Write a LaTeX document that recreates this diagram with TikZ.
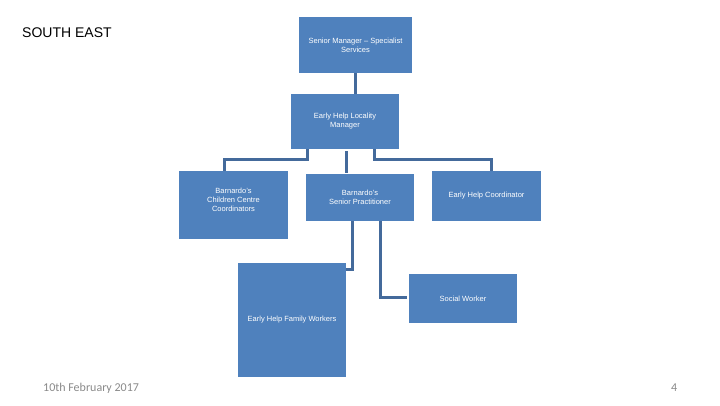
\documentclass[tikz,border=0pt]{standalone}
\usepackage{fontspec}
\setmainfont{Liberation Sans}
\newfontfamily\carl{Carlito}
\usetikzlibrary{calc}
\definecolor{boxblue}{RGB}{79,129,189}
\definecolor{lineblue}{RGB}{68,106,155}
\definecolor{footgray}{RGB}{137,137,137}
\tikzset{
  orgbox/.style={rectangle, fill=boxblue, draw=none, inner sep=0pt, text=white,
    align=center, font=\fontsize{7.5bp}{9bp}\selectfont},
  conn/.style={draw=lineblue, line width=3bp},
}
\begin{document}
\begin{tikzpicture}[x=1bp,y=-1bp]
\useasboundingbox (0,0) rectangle (720,405);
\node[anchor=base west, font=\fontsize{14bp}{16bp}\selectfont, inner sep=0pt] (title) at (22,37) {SOUTH EAST};
\node[anchor=base west, font=\carl\fontsize{12bp}{14bp}\selectfont, text=footgray, inner sep=0pt] (date) at (43,391) {10th February 2017};
\node[anchor=base west, font=\carl\fontsize{12bp}{14bp}\selectfont, text=footgray, inner sep=0pt] (pg) at (671,391) {4};

\node[orgbox, minimum width=113bp, minimum height=56bp] (b1) at (355.5,45) {Senior Manager -- Specialist\\Services};
\node[orgbox, minimum width=108bp, minimum height=55bp] (b2) at (345,121.5) {Early Help Locality\\Manager};
\node[orgbox, minimum width=109bp, minimum height=68bp] (b3) at (233.5,205) {};
\node[orgbox] (b3t) at (233.5,200) {Barnardo's\\Children Centre\\Coordinators};
\node[orgbox, minimum width=108bp, minimum height=47bp] (b4) at (360,197.5) {Barnardo's\\Senior Practitioner};
\node[orgbox, minimum width=109bp, minimum height=50bp] (b5) at (486.5,196) {Early Help Coordinator};
\node[orgbox, minimum width=108bp, minimum height=114bp] (b6) at (292,320) {Early Help Family Workers};
\node[orgbox, minimum width=108bp, minimum height=49bp] (b7) at (463,298.5) {Social Worker};

\draw[conn] (b1.south) -- (b1.south |- b2.north);
\draw[conn] ($(b2.south west)+(17,0)$) -- ++(0,10) -| ($(b3.north west)+(46,0)$);
\draw[conn] ($(b2.south west)+(56,2)$) -- ($(b4.north west)+(41,-1)$);
\draw[conn] ($(b2.south west)+(84,0)$) -- ++(0,10) -| ($(b5.north west)+(60,0)$);
\draw[conn] ($(b4.south west)+(47,0)$) |- ($(b6.east)+(0,-51)$);
\draw[conn] ($(b4.south west)+(75,0)$) |- ($(b7.west)+(-2,-1.5)$);
\end{tikzpicture}
\end{document}
